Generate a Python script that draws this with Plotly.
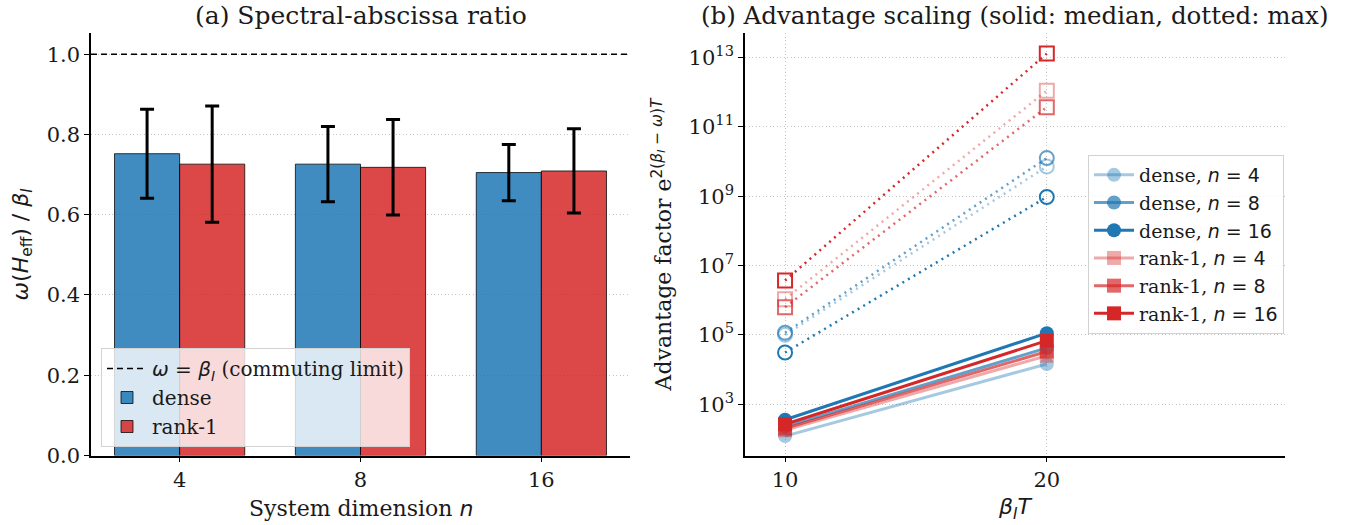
import plotly.graph_objects as go

# ---------------- data ----------------
dims = ["4", "8", "16"]
dense_ratio = [0.752, 0.726, 0.705]
dense_err = [0.111, 0.094, 0.070]
rank1_ratio = [0.726, 0.718, 0.709]
rank1_err = [0.145, 0.119, 0.105]
commuting_limit = 1.0

beta_T = [10, 20]
dense_median = {"4": [120, 1.45e4], "8": [225, 4.2e4], "16": [355, 1.12e5]}
rank1_median = {"4": [178, 2.5e4], "8": [200, 3.3e4], "16": [263, 6.8e4]}
dense_max = {"4": [1.0e5, 7.2e9], "8": [1.15e5, 1.26e10], "16": [3.1e4, 9.5e8]}
rank1_max = {"4": [1.07e6, 1.1e12], "8": [6.3e5, 3.7e11], "16": [3.7e6, 1.3e13]}
y_tick_exps = [3, 5, 7, 9, 11, 13]

# ---------------- style ----------------
W, H = 1355, 525
SERIF = "DejaVu Serif"
SANS = "DejaVu Sans"
BLUE = (31, 119, 180)
RED = (214, 39, 40)
alphas = {"4": 0.4, "8": 0.7, "16": 1.0}
GRID = "rgb(195,195,195)"
TXT = "#1a1a1a"

def rgba(c, a):
    return f"rgba({c[0]},{c[1]},{c[2]},{a})"

def m(s):
    return f'<span style="font-family:{SANS}">{s}</span>'

x1_dom = [91 / W, 630 / W]
x2_dom = [745 / W, 1285 / W]
y_dom = [(H - 455.5) / H, (H - 33.3) / H]
x1_range = [-0.49, 2.49]
xpos = list(range(len(dims)))

fig = go.Figure()

# ---- panel (a) ----
fig.add_trace(go.Scatter(
    x=x1_range, y=[commuting_limit, commuting_limit], mode="lines",
    line=dict(color="black", width=1.5, dash="6px,4px"),
    name=m("<i>ω</i> = <i>β</i><sub><i>I</i></sub>") + " (commuting limit)",
    xaxis="x", yaxis="y", legend="legend"))
fig.add_trace(go.Bar(
    x=xpos, y=dense_ratio, name="dense",
    marker=dict(color=rgba(BLUE, 0.85), line=dict(color="rgba(0,0,0,0.75)", width=1)),
    error_y=dict(type="data", array=dense_err, color="black", thickness=3, width=7),
    xaxis="x", yaxis="y", legend="legend"))
fig.add_trace(go.Bar(
    x=xpos, y=rank1_ratio, name="rank-1",
    marker=dict(color=rgba(RED, 0.85), line=dict(color="rgba(0,0,0,0.75)", width=1)),
    error_y=dict(type="data", array=rank1_err, color="black", thickness=3, width=7),
    xaxis="x", yaxis="y", legend="legend"))

# ---- panel (b) ----
for fam, col, mx, sym in [("dense", BLUE, dense_max, "circle"),
                          ("rank-1", RED, rank1_max, "square")]:
    for n in dims:
        c = rgba(col, alphas[n])
        fig.add_trace(go.Scatter(
            x=beta_T, y=mx[n], mode="lines+markers",
            line=dict(color=c, width=2.5, dash="2px,4.5px"),
            marker=dict(symbol=sym + "-open", size=14, color=c, line=dict(color=c, width=2)),
            showlegend=False, xaxis="x2", yaxis="y2"))
for fam, col, med, sym in [("dense", BLUE, dense_median, "circle"),
                           ("rank-1", RED, rank1_median, "square")]:
    for n in dims:
        c = rgba(col, alphas[n])
        fig.add_trace(go.Scatter(
            x=beta_T, y=med[n], mode="lines+markers",
            line=dict(color=c, width=3),
            marker=dict(symbol=sym, size=14, color=c),
            name=f"{fam}, " + m(f"<i>n</i> = {n}"),
            xaxis="x2", yaxis="y2", legend="legend2"))

axis_common = dict(showline=True, linecolor="black", linewidth=1.5, ticks="outside",
                   ticklen=5, tickwidth=1.3, tickcolor="black", mirror=False,
                   zeroline=False, tickfont=dict(family=SERIF, size=21, color=TXT),
                   automargin=False)
grid = dict(showgrid=True, gridcolor=GRID, griddash="1px,2.5px", gridwidth=1)

fig.update_layout(
    width=W, height=H, margin=dict(l=0, r=0, t=0, b=0),
    paper_bgcolor="white", plot_bgcolor="white",
    barmode="group", bargap=0.28, bargroupgap=0,
    font=dict(family=SERIF, size=18, color=TXT),
    xaxis=dict(domain=x1_dom, anchor="y", range=x1_range, tickvals=xpos, ticktext=dims,
               showgrid=False, **axis_common),
    yaxis=dict(domain=y_dom, anchor="x", range=[0, 1.052],
               tickvals=[0, 0.2, 0.4, 0.6, 0.8, 1.0],
               ticktext=["0.0", "0.2", "0.4", "0.6", "0.8", "1.0"],
               **grid, **axis_common),
    xaxis2=dict(domain=x2_dom, anchor="y2", range=[8.47, 29.1], tickvals=beta_T,
                **grid, **axis_common),
    yaxis2=dict(domain=y_dom, anchor="x2", type="log", range=[1.52, 13.7],
                tickvals=[10 ** e for e in y_tick_exps],
                ticktext=[f"10<sup>{e}</sup>" for e in y_tick_exps],
                **grid, **axis_common),
    legend=dict(x=101 / W, y=1 - 348 / H, xanchor="left", yanchor="top",
                bgcolor="rgba(255,255,255,0.8)", bordercolor="rgb(210,210,210)",
                borderwidth=1, font=dict(family=SERIF, size=20, color=TXT),
                tracegroupgap=0, itemwidth=40),
    legend2=dict(x=1088 / W, y=1 - 155 / H, xanchor="left", yanchor="top",
                 bgcolor="rgba(255,255,255,0.8)", bordercolor="rgb(210,210,210)",
                 borderwidth=1, font=dict(family=SERIF, size=19, color=TXT),
                 tracegroupgap=0, itemwidth=40),
)

ann = []
ann.append(dict(text="(a) Spectral-abscissa ratio", x=(x1_dom[0] + x1_dom[1]) / 2,
                y=1 - 15 / H, font=dict(size=25)))
ann.append(dict(text="(b) Advantage scaling (solid: median, dotted: max)",
                x=(x2_dom[0] + x2_dom[1]) / 2, y=1 - 15 / H, font=dict(size=24.5)))
ann.append(dict(text="System dimension " + m("<i>n</i>"), x=(x1_dom[0] + x1_dom[1]) / 2,
                y=1 - 508 / H, font=dict(size=22)))
ann.append(dict(text=m("<i>β</i><sub><i>I</i></sub><i>T</i>"), x=(x2_dom[0] + x2_dom[1]) / 2,
                y=1 - 508 / H, font=dict(size=22)))
ann.append(dict(text=m("<i>ω</i>(<i>H</i><sub>eff</sub>) / <i>β</i><sub><i>I</i></sub>"),
                x=22 / W, y=(y_dom[0] + y_dom[1]) / 2, textangle=-90, font=dict(size=22)))
ann.append(dict(text="Advantage factor e" +
                m("<sup>2(<i>β</i><sub><i>I</i></sub> − <i>ω</i>)<i>T</i></sup>"),
                x=662 / W, y=(y_dom[0] + y_dom[1]) / 2, textangle=-90, font=dict(size=22)))
for a in ann:
    a.update(xref="paper", yref="paper", showarrow=False, xanchor="center", yanchor="middle")
    a["font"].update(family=SERIF, color=TXT)
fig.update_layout(annotations=ann)

fig.write_html("out.html", config={"displayModeBar": False},
               post_script="document.body.style.margin='0';")
